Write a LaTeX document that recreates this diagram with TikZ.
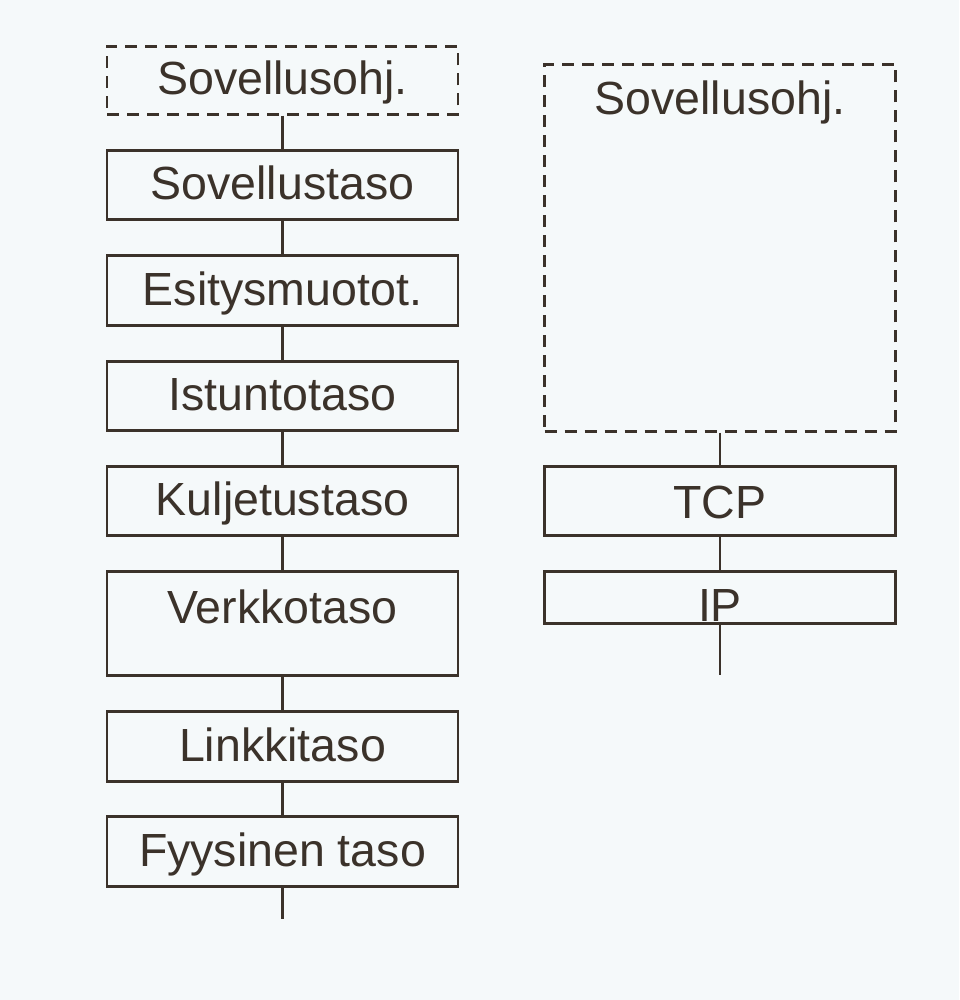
\documentclass[tikz,border=0pt]{standalone}
\usepackage{fontspec}
\setmainfont{Liberation Sans}
\definecolor{ink}{HTML}{3B322A}
\definecolor{paper}{HTML}{F5F9FA}
\tikzset{
  layer/.style={draw=ink, line width=2.6pt, rectangle, inner sep=0pt,
    minimum width=351pt, anchor=north, text=ink,
    font=\fontsize{46.5}{50}\selectfont},
  appbox/.style={layer, dash pattern=on 12pt off 8pt},
  link/.style={draw=ink, line width=2.6pt},
}
\begin{document}
\begin{tikzpicture}[x=1pt, y=-1pt]
  % page
  \fill[paper] (0,0) rectangle (959,1000);
  \useasboundingbox (0,0) rectangle (959,1000);

  % OSI reference model (left column)
  \node[appbox, text height=48pt, text depth=20pt] (o1) at (282.5,45) {Sovellusohj.};
  \node[layer, text height=49pt, text depth=20pt] (o2) at (282.5,149) {Sovellustaso};
  \node[layer, text height=50pt, text depth=20pt] (o3) at (282.5,254) {Esitysmuotot.};
  \node[layer, text height=49pt, text depth=20pt] (o4) at (282.5,360) {Istuntotaso};
  \node[layer, text height=49pt, text depth=20pt] (o5) at (282.5,465) {Kuljetustaso};
  \node[layer, text height=52pt, text depth=52pt] (o6) at (282.5,570) {Verkkotaso};
  \node[layer, text height=50pt, text depth=20pt] (o7) at (282.5,710) {Linkkitaso};
  \node[layer, text height=50pt, text depth=20pt] (o8) at (282.5,815) {Fyysinen taso};
  \coordinate (oend) at (282.5,919);

  \draw[link] (o1.south) -- (o2.north);
  \draw[link] (o2.south) -- (o3.north);
  \draw[link] (o3.south) -- (o4.north);
  \draw[link] (o4.south) -- (o5.north);
  \draw[link] (o5.south) -- (o6.north);
  \draw[link] (o6.south) -- (o7.north);
  \draw[link] (o7.south) -- (o8.north);
  \draw[link] (o8.south) -- (oend);

  % TCP/IP model (right column)
  \node[appbox, text height=50pt, text depth=317pt] (t1) at (720,63) {Sovellusohj.};
  \node[layer, text height=52pt, text depth=17pt] (t2) at (720,465) {TCP};
  \node[layer, text height=50pt, text depth=2pt] (t3) at (720,570) {IP};
  \coordinate (tend) at (720,675);

  \draw[link] (t1.south) -- (t2.north);
  \draw[link] (t2.south) -- (t3.north);
  \draw[link] (t3.south) -- (tend);
\end{tikzpicture}
\end{document}
